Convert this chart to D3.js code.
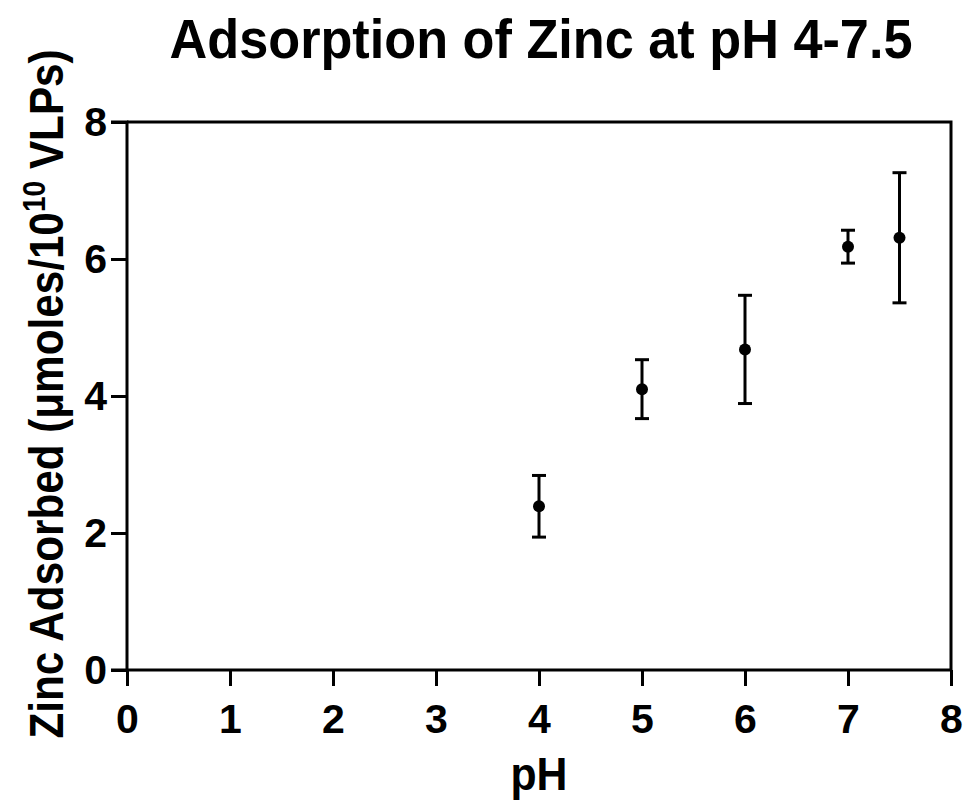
<!DOCTYPE html>
<html>
<head>
<meta charset="utf-8">
<script src="https://cdn.jsdelivr.net/npm/d3@7"></script>
<style>
  body { margin: 0; background: #fff; }
  text { font-family: "Liberation Sans", Arial, sans-serif; font-weight: bold; fill: #000; }
</style>
</head>
<body>
<script>
// data
const ph = [4, 5, 6, 7, 7.5];
const zincMean = [2.39, 4.10, 4.68, 6.18, 6.31];
const zincErr = [0.45, 0.43, 0.79, 0.24, 0.95];
const xTicks = [0, 1, 2, 3, 4, 5, 6, 7, 8];
const yTicks = [0, 2, 4, 6, 8];

const width = 968, height = 804;
const margin = { top: 122, right: 17, bottom: 134, left: 127 };

const svg = d3.select('body')
    .append('svg')
    .attr('width', width)
    .attr('height', height);

const x = d3.scaleLinear().domain([0, 8]).range([margin.left, width - margin.right]);
const y = d3.scaleLinear().domain([0, 8]).range([height - margin.bottom, margin.top]);

// frame (top + right)
svg.append('path')
    .attr('d', `M${x(0)},${y(8)}H${x(8)}V${y(0)}`)
    .attr('fill', 'none')
    .attr('stroke', '#000')
    .attr('stroke-width', 3);

const xAxis = svg.append('g')
    .attr('transform', 'translate(0,' + y(0) + ')')
    .call(d3.axisBottom(x).tickValues(xTicks).tickSize(16).tickPadding(18).tickSizeOuter(0));

const yAxis = svg.append('g')
    .attr('transform', 'translate(' + x(0) + ',0)')
    .call(d3.axisLeft(y).tickValues(yTicks).tickSize(16).tickPadding(4).tickSizeOuter(0));

[xAxis, yAxis].forEach(a => {
    a.select('.domain').attr('stroke-width', 3);
    a.selectAll('.tick line').attr('stroke-width', 3);
    a.selectAll('.tick text')
        .style('font-size', '41px')
        .style('font-family', '"Liberation Sans", Arial, sans-serif')
        .style('font-weight', 'bold');
});
yAxis.select('.domain').attr('d', `M-16,${y(8)}H0V${y(0)}`);
xAxis.select('.domain').attr('d', `M${x(0) - 16},0H${x(8)}`);

// error bars
const bars = svg.append('g');
ph.forEach((p, i) => {
    const top = y(zincMean[i] + zincErr[i]);
    const bot = y(zincMean[i] - zincErr[i]);
    bars.append('line')
        .attr('x1', x(p)).attr('x2', x(p))
        .attr('y1', top).attr('y2', bot)
        .attr('stroke', '#000').attr('stroke-width', 3);
    [top, bot].forEach(v => {
        bars.append('line')
            .attr('x1', x(p) - 7).attr('x2', x(p) + 7)
            .attr('y1', v).attr('y2', v)
            .attr('stroke', '#000').attr('stroke-width', 3);
    });
});

svg.append('g')
    .selectAll('circle')
    .data(ph)
    .enter()
    .append('circle')
    .attr('cx', d => x(d))
    .attr('cy', (d, i) => y(zincMean[i]))
    .attr('r', 6)
    .attr('fill', '#000');

// title (font in the original is a bit narrower, so squeeze it)
svg.append('text')
    .attr('transform', 'translate(541,58) scale(0.933,1)')
    .attr('text-anchor', 'middle')
    .style('font-size', '56px')
    .text('Adsorption of Zinc at pH 4-7.5');

// x label
svg.append('text')
    .attr('transform', 'translate(' + (x(0) + x(8)) / 2 + ',790) scale(0.93,1)')
    .attr('text-anchor', 'middle')
    .style('font-size', '46px')
    .text('pH');

// y label
const yl = svg.append('text')
    .attr('transform', 'translate(63,394) rotate(-90) scale(0.88,1)')
    .attr('text-anchor', 'middle')
    .style('font-size', '48px');
yl.append('tspan').text('Zinc Adsorbed (\u03bcmoles/10');
yl.append('tspan').attr('dy', -18).style('font-size', '32px').text('10');
yl.append('tspan').attr('dy', 18).text(' VLPs)');
</script>
</body>
</html>
